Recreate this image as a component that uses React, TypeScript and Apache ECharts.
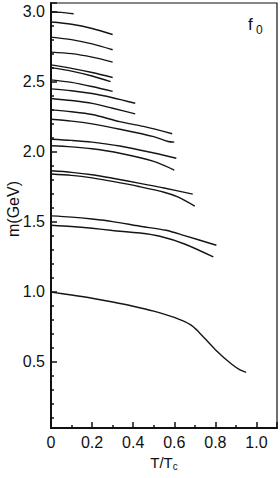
import React, { useEffect, useRef } from "react";
import * as echarts from "echarts";

// Axis ranges / tick labels
const xRange = [0, 1.1];
const yRange = [0.025, 3.062];
const xTickStep = 0.2;
const ySplitCount = 6;

// Curves: [T/Tc, m (GeV)]
const line1 = [[0, 3.0], [0.05, 2.995], [0.11, 2.985]];
const line2 = [[0, 2.926], [0.1, 2.91], [0.2, 2.88], [0.3, 2.837]];
const line3 = [[0, 2.818], [0.1, 2.8], [0.2, 2.77], [0.3, 2.728]];
const line4 = [[0, 2.711], [0.1, 2.7], [0.2, 2.675], [0.3, 2.64]];
const line5 = [[0, 2.62], [0.1, 2.595], [0.2, 2.565], [0.3, 2.53]];
const line6 = [[0, 2.6], [0.1, 2.575], [0.2, 2.54], [0.29, 2.5]];
const line7 = [[0, 2.513], [0.1, 2.495], [0.2, 2.465], [0.3, 2.43]];
const line8 = [[0, 2.448], [0.1, 2.435], [0.2, 2.415], [0.3, 2.385], [0.41, 2.346]];
const line9 = [[0, 2.38], [0.1, 2.365], [0.2, 2.345], [0.3, 2.31], [0.41, 2.27]];
const line10 = [[0, 2.298], [0.1, 2.285], [0.2, 2.265], [0.335, 2.214], [0.45, 2.18], [0.59, 2.128]];
const line11 = [[0, 2.231], [0.1, 2.218], [0.2, 2.198], [0.335, 2.16], [0.5, 2.107], [0.57, 2.072], [0.6, 2.068]];
const line12 = [[0, 2.088], [0.1, 2.08], [0.2, 2.068], [0.335, 2.04], [0.5, 1.99], [0.61, 1.953]];
const line13 = [[0, 2.042], [0.1, 2.034], [0.2, 2.02], [0.335, 1.988], [0.5, 1.93], [0.6, 1.868]];
const line14 = [[0, 1.863], [0.1, 1.852], [0.2, 1.835], [0.3, 1.81], [0.433, 1.773], [0.55, 1.74], [0.69, 1.696]];
const line15 = [[0, 1.84], [0.1, 1.83], [0.2, 1.812], [0.3, 1.787], [0.433, 1.749], [0.55, 1.71], [0.62, 1.675], [0.7, 1.61]];
const line16 = [[0, 1.541], [0.1, 1.532], [0.2, 1.518], [0.3, 1.5], [0.433, 1.467], [0.56, 1.438], [0.65, 1.4], [0.805, 1.331]];
const line17 = [[0, 1.474], [0.1, 1.465], [0.2, 1.452], [0.3, 1.436], [0.433, 1.418], [0.53, 1.395], [0.65, 1.34], [0.79, 1.247]];
const line18 = [[0, 0.996], [0.1, 0.975], [0.2, 0.952], [0.3, 0.925], [0.4, 0.895], [0.5, 0.86], [0.6, 0.815], [0.68, 0.762], [0.72, 0.71], [0.8, 0.585], [0.88, 0.48], [0.92, 0.44], [0.95, 0.423]];

const curves = [line1, line2, line3, line4, line5, line6, line7, line8, line9, line10, line11, line12, line13, line14, line15, line16, line17, line18];

const FONT = '"Liberation Sans", Arial, Helvetica, sans-serif';
const INK = "#111";

const isHalf = (v: number) => Math.abs(v * 2 - Math.round(v * 2)) < 0.01 && v > 0.1;

export default function App() {
  const ref = useRef<HTMLDivElement>(null);
  useEffect(() => {
    if (!ref.current) return;
    const chart = echarts.init(ref.current, null, { renderer: "svg" });
    chart.setOption({
      animation: false,
      backgroundColor: "#fff",
      grid: {
        left: 51,
        right: 3,
        top: 3,
        bottom: 50,
        show: true,
        borderColor: INK,
        borderWidth: 1.2,
        backgroundColor: "transparent",
      },
      xAxis: {
        type: "value",
        min: xRange[0],
        max: xRange[1],
        interval: xTickStep,
        splitLine: { show: false },
        axisLine: { show: true, lineStyle: { color: INK, width: 2 } },
        axisTick: { show: true, inside: true, length: 6, lineStyle: { color: INK, width: 1.5 } },
        minorTick: { show: true, splitNumber: 2, length: 3, lineStyle: { color: INK, width: 1.5 } },
        minorSplitLine: { show: false },
        axisLabel: {
          margin: 6,
          color: INK,
          fontSize: 16,
          fontFamily: FONT,
          showMaxLabel: false,
          formatter: (v: number) => (v > 1.05 ? "" : v === 0 ? "0" : v.toFixed(1)),
        },
        name: "T/T{c|c}",
        nameLocation: "middle",
        nameGap: 17,
        nameTextStyle: {
          color: INK,
          fontSize: 15,
          fontFamily: FONT,
          rich: {
            c: { fontSize: 10, fontFamily: FONT, color: INK, padding: [8, 0, 0, 0] },
          },
        },
      },
      yAxis: {
        type: "value",
        min: yRange[0],
        max: yRange[1],
        splitNumber: ySplitCount,
        splitLine: { show: false },
        axisLine: { show: true, lineStyle: { color: INK, width: 2 } },
        axisTick: { show: true, inside: true, length: 6, lineStyle: { color: INK, width: 1.5 } },
        minorTick: { show: true, splitNumber: 5, length: 3, lineStyle: { color: INK, width: 1.5 } },
        minorSplitLine: { show: false },
        axisLabel: {
          margin: 6,
          color: INK,
          fontSize: 16,
          fontFamily: FONT,
          showMinLabel: false,
          showMaxLabel: false,
          formatter: (v: number) => (isHalf(v) ? v.toFixed(1) : ""),
        },
      },
      graphic: [
        {
          type: "text",
          x: 13,
          y: 209,
          rotation: Math.PI / 2,
          style: {
            text: "m(GeV)",
            fontSize: 16,
            fontFamily: FONT,
            fill: INK,
            align: "center",
            verticalAlign: "middle",
          },
        },
        {
          type: "text",
          left: 248,
          top: 16,
          style: { text: "f", fontSize: 17, fontFamily: FONT, fill: INK },
        },
        {
          type: "text",
          left: 256,
          top: 24,
          style: { text: "0", fontSize: 12, fontFamily: FONT, fill: INK },
        },
      ],
      series: curves.map((d) => ({
        type: "line",
        data: d,
        smooth: 0.3,
        showSymbol: false,
        symbol: "none",
        lineStyle: { color: "#151515", width: 1.4 },
      })),
    });
    return () => chart.dispose();
  }, []);
  return <div ref={ref} style={{ width: 280, height: 478, position: "absolute", left: 0, top: 0 }} />;
}
